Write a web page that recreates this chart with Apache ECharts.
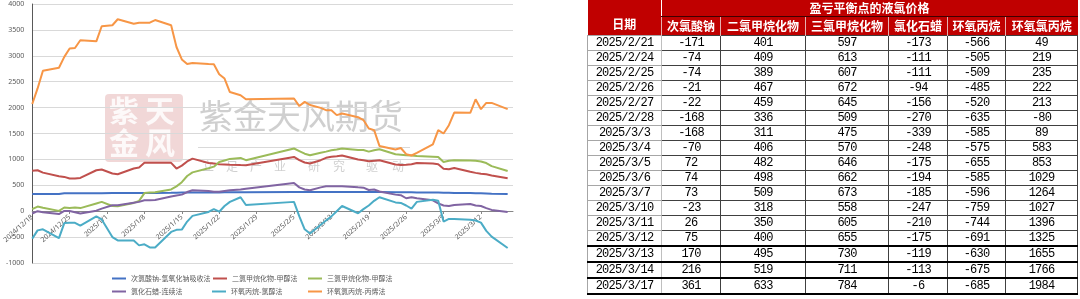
<!DOCTYPE html>
<html>
<head>
<meta charset="utf-8">
<script src="https://cdn.jsdelivr.net/npm/echarts@6/dist/echarts.min.js"></script>
<style>
  html, body { margin: 0; padding: 0; background: #fff; width: 1080px; height: 299px; overflow: hidden; }
  #chart { position: absolute; left: 0; top: 0; width: 1080px; height: 299px; }
  #tbl { position: absolute; left: 587px; top: 0; }
  #tbl table { border-collapse: collapse; table-layout: fixed; width: 490px; }
  #tbl td { padding: 0; text-align: center; white-space: nowrap; overflow: hidden; }
  .h td { background: #c00000; color: #fff; font: bold 12px "Noto Sans CJK SC"; }
  .h1 td { height: 16px; line-height: 16px; }
  .h2 td { height: 18px; line-height: 18px; border-left: 1px solid #e6b0b0; border-top: 1px solid #400000; }
  .d td { height: 13.3px; line-height: 13px; font: 12px "Liberation Mono"; letter-spacing: -0.8px; color: #000;
          border: 1px solid #404040; }
  .d td.dt { border-left: 1px solid #a6a6a6; border-right: 1px solid #bfbfbf; border-top-color: #a6a6a6; border-bottom-color: #a6a6a6; }
  .d.bold td { border-top: 2px solid #000; border-bottom: 2px solid #000; }
</style>
</head>
<body>
<div id="chart"></div>
<div id="tbl"></div>
<script>
// 交易日
var tradeDates = [
  '2024/12/18', '2024/12/19', '2024/12/20', '2024/12/23', '2024/12/24', '2024/12/25', '2024/12/26', '2024/12/27', '2024/12/30', '2024/12/31',
  '2025/1/2', '2025/1/3', '2025/1/6', '2025/1/7', '2025/1/8', '2025/1/9', '2025/1/10', '2025/1/13', '2025/1/14', '2025/1/15',
  '2025/1/16', '2025/1/17', '2025/1/20', '2025/1/21', '2025/1/22', '2025/1/23', '2025/1/24', '2025/1/26', '2025/1/27',
  '2025/2/5', '2025/2/6', '2025/2/7', '2025/2/8', '2025/2/10', '2025/2/11', '2025/2/12', '2025/2/13', '2025/2/14',
  '2025/2/17', '2025/2/18', '2025/2/19', '2025/2/20', '2025/2/21', '2025/2/24', '2025/2/25', '2025/2/26', '2025/2/27', '2025/2/28',
  '2025/3/3', '2025/3/4', '2025/3/5', '2025/3/6', '2025/3/7', '2025/3/10', '2025/3/11', '2025/3/12', '2025/3/13', '2025/3/14', '2025/3/17'
];

var naClO = [
  330, 330, 330, 330, 345, 345, 345, 345, 345, 345,
  350, 350, 350, 350, 350, 350, 352, 355, 358, 360,
  360, 360, 362, 362, 363, 364, 365, 366, 366,
  370, 370, 370, 370, 370, 372, 372, 372, 372,
  372, 372, 370, 370, 370, 368, 366, 365, 364, 363,
  362, 360, 356, 355, 352, 350, 348, 346, 342, 338, 330
];
var ch2cl2 = [
  780, 790, 745, 675, 662, 630, 630, 643, 790, 805,
  728, 714, 824, 843, 933, 933, 933, 933, 824, 880,
  960, 1015, 930, 920, 905, 900, 895, 890, 888,
  1048, 985, 940, 920, 985, 1030, 1050, 1062, 1075,
  998, 985, 965, 975, 985, 900, 890, 895, 905, 930,
  920, 905, 820, 810, 835, 760, 740, 725, 712, 690, 635
];
var chcl3 = [
  40, 90, 65, 6, 71, 64, 71, 60, 150, 180,
  100, 96, 160, 200, 350, 360, 365, 420, 480, 560,
  680, 750, 830, 860, 950, 980, 1010, 1029, 985,
  1210, 1160, 1110, 1080, 1130, 1150, 1175, 1190, 1210,
  1180, 1180, 1150, 1175, 1195, 1100, 1090, 1080, 1075, 1065,
  1050, 1045, 950, 975, 985, 980, 975, 960, 930, 870, 775
];
var paraffin = [
  -45, 0, -20, -55, 5, 5, -20, -45, 10, 50,
  115, 115, 165, 180, 210, 210, 215, 285, 305, 320,
  370, 405, 390, 375, 375, 390, 405, 420, 435,
  545, 460, 420, 405, 460, 483, 483, 483, 483,
  460, 455, 410, 418, 380, 320, 310, 250, 270, 250,
  210, 150, 110, 100, 120, 140, 110, 100, 60, 25, -15
];
var po = [
  -530, -370, -350, -520, -230, -225, -225, -280, -100, -160,
  -500, -565, -565, -660, -640, -700, -700, -400, -360, -355,
  -200, -90, -15, 40, -10, 100, 180, 270, 120,
  180, -100, -350, -430, -260, -180, -100, 0, 100,
  -40, 40, 110, 200, 270, 170, 160, 110, 50, 180,
  220, 200, -200, -150, -150, -165, -180, -220, -380, -490, -710
];
var ech = [
  2070, 2370, 2710, 2770, 2980, 3140, 3150, 3300, 3280, 3570,
  3590, 3706, 3620, 3640, 3640, 3640, 3690, 3590, 3170, 2930,
  2840, 2860, 2840, 2835, 2645, 2560, 2300, 2240, 2160,
  2175, 2030, 2110, 2050, 1995, 1950, 1950, 1855, 1885,
  1815, 1760, 1595, 1565, 1260, 1190, 1220, 1100, 1075, 1125,
  1290, 1565, 1500, 1660, 1905, 1900, 2160, 1970, 2090, 2090, 1970
];

var seriesNames = ['次氯酸钠-氢氧化钠吸收法', '二氯甲烷化物-甲醇法', '三氯甲烷化物-甲醇法', '氯化石蜡-连续法', '环氧丙烷-氯醇法', '环氧氯丙烷-丙烯法'];
var seriesColors = ['#4472C4', '#C0504D', '#9BBB59', '#8064A2', '#4BACC6', '#F79646'];
var seriesData = [naClO, ch2cl2, chcl3, paraffin, po, ech];

// 表格数据
var tableDates = ['2025/2/21', '2025/2/24', '2025/2/25', '2025/2/26', '2025/2/27', '2025/2/28', '2025/3/3', '2025/3/4', '2025/3/5',
  '2025/3/6', '2025/3/7', '2025/3/10', '2025/3/11', '2025/3/12', '2025/3/13', '2025/3/14', '2025/3/17'];
var tHeaders = ['次氯酸钠', '二氯甲烷化物', '三氯甲烷化物', '氯化石蜡', '环氧丙烷', '环氧氯丙烷'];
var tNaClO = [-171, -74, -74, -21, -22, -168, -168, -70, 72, 74, 73, -23, 26, 75, 170, 216, 361];
var tCh2cl2 = [401, 409, 389, 467, 459, 336, 311, 406, 482, 498, 509, 318, 350, 400, 495, 519, 633];
var tChcl3 = [597, 613, 607, 672, 645, 509, 475, 570, 646, 662, 673, 558, 605, 655, 730, 711, 784];
var tParaffin = [-173, -111, -111, -94, -156, -270, -339, -248, -175, -194, -185, -247, -210, -175, -119, -113, -6];
var tPo = [-566, -505, -509, -485, -520, -635, -585, -575, -655, -585, -596, -759, -744, -691, -630, -675, -685];
var tEch = [49, 219, 235, 222, 213, -80, 89, 583, 853, 1029, 1264, 1027, 1396, 1325, 1655, 1766, 1984];
var colWidths = [74, 59, 85, 83, 59, 58, 72];

// 日历日坐标（2024/12/18 ~ 2025/3/18）
var days = [];
var dt = new Date(2024, 11, 18);
for (var i = 0; i < 91; i++) {
  days.push(dt.getFullYear() + '/' + (dt.getMonth() + 1) + '/' + dt.getDate());
  dt.setDate(dt.getDate() + 1);
}

var chart = echarts.init(document.getElementById('chart'));

var legendPos = [[112, 275], [213, 275], [308, 275], [112, 288], [212, 288], [308, 288]];
var legends = seriesNames.map(function (n, i) {
  return {
    data: [n], left: legendPos[i][0], top: legendPos[i][1], padding: 0,
    icon: 'rect', itemWidth: 14, itemHeight: 2, selectedMode: false,
    textStyle: { fontSize: 7, color: '#595959', fontFamily: 'Noto Sans CJK SC' }
  };
});

var series = seriesNames.map(function (n, i) {
  return {
    name: n,
    type: 'line',
    showSymbol: false,
    z: 3,
    lineStyle: { width: 2, color: seriesColors[i] },
    itemStyle: { color: seriesColors[i] },
    data: tradeDates.map(function (d, k) { return [d, seriesData[i][k]]; })
  };
});

// 水印
var wmFont = '"Noto Sans CJK SC"';
var wmGray = 'rgba(140,140,140,0.42)';
var slogan = ['立', '足', '产', '业', '研', '究', '驱', '动'];
var sloganX = [202, 226, 250, 274, 308, 333, 366, 392];
var watermark = [
  { type: 'rect', left: 105, top: 94, z: -5, shape: { width: 78, height: 68, r: 4 }, style: { fill: 'rgba(205,110,110,0.28)' } },
  { type: 'text', left: 109, top: 96, z: -4, style: { text: '紫', font: 'bold 30px ' + wmFont, fill: 'rgba(255,255,255,0.85)' } },
  { type: 'text', left: 145, top: 96, z: -4, style: { text: '天', font: 'bold 30px ' + wmFont, fill: 'rgba(255,255,255,0.85)' } },
  { type: 'text', left: 109, top: 128, z: -4, style: { text: '金', font: 'bold 30px ' + wmFont, fill: 'rgba(255,255,255,0.85)' } },
  { type: 'text', left: 145, top: 128, z: -4, style: { text: '风', font: 'bold 30px ' + wmFont, fill: 'rgba(255,255,255,0.85)' } },
  { type: 'text', left: 199, top: 99, z: -4, style: { text: '紫金天风期货', font: '34px ' + wmFont, fill: wmGray } },
  { type: 'rect', left: 198, top: 147, z: -4, shape: { width: 212, height: 1 }, style: { fill: 'rgba(160,160,160,0.4)' } }
];
slogan.forEach(function (c, i) {
  watermark.push({ type: 'text', left: sloganX[i], top: 160, z: -4, style: { text: c, font: '12px ' + wmFont, fill: wmGray } });
});

var option = {
  animation: false,
  grid: { left: 31, right: 567, top: 4, bottom: 36 },
  legend: legends,
  xAxis: {
    type: 'category',
    data: days,
    boundaryGap: false,
    offset: -52,  // 横轴放在 0 值处
    axisLine: { onZero: false, lineStyle: { color: '#868686', width: 1 } },
    axisTick: { interval: 6, length: 3, lineStyle: { color: '#868686' } },
    axisLabel: { interval: 6, rotate: 42, fontSize: 7, color: '#595959', margin: 5, fontFamily: 'Noto Sans' },
    splitLine: { show: false }
  },
  yAxis: {
    type: 'value',
    min: -1000, max: 4000, interval: 500,
    axisLine: { show: true, lineStyle: { color: '#595959', width: 1 } },
    axisTick: { show: false },
    axisLabel: { fontSize: 7, color: '#595959', margin: 8, fontFamily: 'Noto Sans', formatter: function (v) { return String(v); } },
    splitLine: { lineStyle: { color: '#d9d9d9', width: 1 } }
  },
  graphic: watermark,
  series: series
};
chart.setOption(option);

// 表格
var cols = [tNaClO, tCh2cl2, tChcl3, tParaffin, tPo, tEch];
var html = '<table><colgroup>';
colWidths.forEach(function (w) { html += '<col style="width:' + w + 'px">'; });
html += '</colgroup>';
html += '<tr class="h h1"><td rowspan="2" style="vertical-align:bottom;padding-bottom:3px">日期</td><td colspan="6">盈亏平衡点的液氯价格</td></tr>';
html += '<tr class="h h2">';
tHeaders.forEach(function (h) { html += '<td>' + h + '</td>'; });
html += '</tr>';
tableDates.forEach(function (d, r) {
  html += '<tr class="d' + (r >= tableDates.length - 3 ? ' bold' : '') + '"><td class="dt">' + d + '</td>';
  cols.forEach(function (c) { html += '<td>' + c[r] + '</td>'; });
  html += '</tr>';
});
html += '</table>';
document.getElementById('tbl').innerHTML = html;
</script>
</body>
</html>
